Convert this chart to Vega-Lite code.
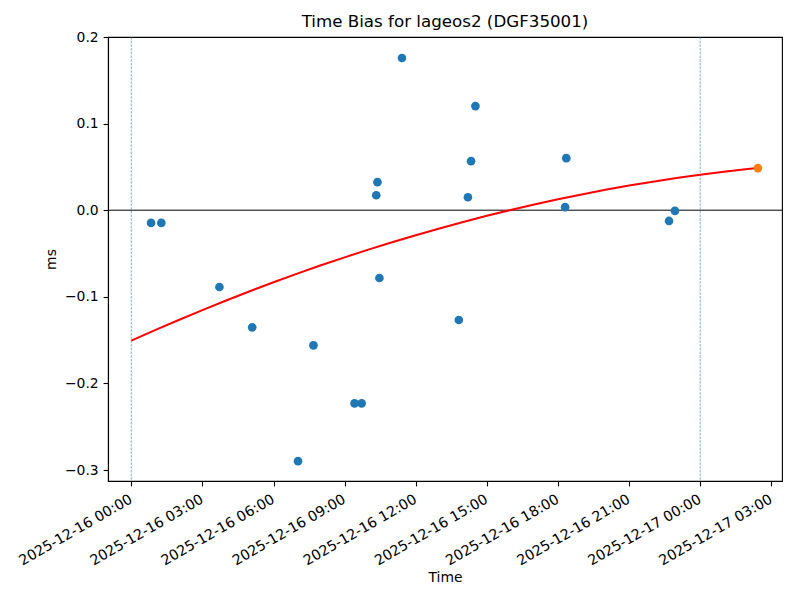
{
  "$schema": "https://vega.github.io/schema/vega-lite/v6.json",
  "autosize": {"type": "none"},
  "width": 674,
  "height": 444,
  "padding": {"left": 108, "top": 37, "right": 18, "bottom": 119},
  "title": {"text": "Time Bias for lageos2 (DGF35001)", "fontSize": 16.7, "fontWeight": "normal", "font": "DejaVu Sans", "color": "black", "anchor": "middle", "offset": -1},
  "config": {
    "font": "DejaVu Sans",
    "view": {"stroke": "black", "strokeWidth": 1.1},
    "axis": {"domainColor": "black", "domainWidth": 1.1, "tickColor": "black", "tickWidth": 1.1, "tickSize": 4.9, "labelColor": "black", "titleColor": "black", "labelFont": "DejaVu Sans", "titleFont": "DejaVu Sans", "labelFontSize": 13.9, "titleFontSize": 13.9, "titleFontWeight": "normal", "grid": false, "labelPadding": 4.9}
  },
  "datasets": {
    "obs": [
      {"t": "2025-12-16T00:50:00Z", "v": -0.0147},
      {"t": "2025-12-16T01:16:00Z", "v": -0.0147},
      {"t": "2025-12-16T03:43:00Z", "v": -0.0887},
      {"t": "2025-12-16T05:06:00Z", "v": -0.1353},
      {"t": "2025-12-16T07:02:00Z", "v": -0.2898},
      {"t": "2025-12-16T07:41:00Z", "v": -0.1561},
      {"t": "2025-12-16T09:25:00Z", "v": -0.2231},
      {"t": "2025-12-16T09:43:00Z", "v": -0.2231},
      {"t": "2025-12-16T10:20:00Z", "v": 0.0173},
      {"t": "2025-12-16T10:23:00Z", "v": 0.0324},
      {"t": "2025-12-16T10:28:00Z", "v": -0.0783},
      {"t": "2025-12-16T11:25:00Z", "v": 0.1757},
      {"t": "2025-12-16T13:49:00Z", "v": -0.1268},
      {"t": "2025-12-16T14:12:00Z", "v": 0.015},
      {"t": "2025-12-16T14:20:00Z", "v": 0.0566},
      {"t": "2025-12-16T14:31:00Z", "v": 0.1202},
      {"t": "2025-12-16T18:18:00Z", "v": 0.0035},
      {"t": "2025-12-16T18:21:00Z", "v": 0.0601},
      {"t": "2025-12-16T22:41:00Z", "v": -0.0124},
      {"t": "2025-12-16T22:56:00Z", "v": -0.0008}
    ],
    "fit": [
      {"t": "2025-12-16T00:00:00Z", "v": -0.1507},
      {"t": "2025-12-16T01:00:00Z", "v": -0.13855},
      {"t": "2025-12-16T02:00:00Z", "v": -0.12676},
      {"t": "2025-12-16T03:00:00Z", "v": -0.11534},
      {"t": "2025-12-16T04:00:00Z", "v": -0.10428},
      {"t": "2025-12-16T05:00:00Z", "v": -0.09358},
      {"t": "2025-12-16T06:00:00Z", "v": -0.08324},
      {"t": "2025-12-16T07:00:00Z", "v": -0.07326},
      {"t": "2025-12-16T08:00:00Z", "v": -0.06364},
      {"t": "2025-12-16T09:00:00Z", "v": -0.05443},
      {"t": "2025-12-16T10:00:00Z", "v": -0.0455},
      {"t": "2025-12-16T11:00:00Z", "v": -0.03697},
      {"t": "2025-12-16T12:00:00Z", "v": -0.02884},
      {"t": "2025-12-16T13:00:00Z", "v": -0.02111},
      {"t": "2025-12-16T14:00:00Z", "v": -0.01356},
      {"t": "2025-12-16T15:00:00Z", "v": -0.00648},
      {"t": "2025-12-16T16:00:00Z", "v": 0.00024},
      {"t": "2025-12-16T17:00:00Z", "v": 0.0066},
      {"t": "2025-12-16T18:00:00Z", "v": 0.0126},
      {"t": "2025-12-16T19:00:00Z", "v": 0.01823},
      {"t": "2025-12-16T20:00:00Z", "v": 0.0235},
      {"t": "2025-12-16T21:00:00Z", "v": 0.02841},
      {"t": "2025-12-16T22:00:00Z", "v": 0.03296},
      {"t": "2025-12-16T23:00:00Z", "v": 0.03714},
      {"t": "2025-12-17T00:00:00Z", "v": 0.04096},
      {"t": "2025-12-17T01:00:00Z", "v": 0.04442},
      {"t": "2025-12-17T02:00:00Z", "v": 0.04752},
      {"t": "2025-12-17T02:26:00Z", "v": 0.0486}
    ],
    "pred": [{"t": "2025-12-17T02:26:00Z", "v": 0.0486}],
    "vlines": [{"t": "2025-12-16T00:00:00Z"}, {"t": "2025-12-17T00:00:00Z"}],
    "hline": [{"v": 0}]
  },
  "encoding": {
    "x": {
      "field": "t", "type": "temporal", "title": "Time",
      "scale": {"type": "utc", "domain": [
        {"year": 2025, "month": 12, "date": 15, "hours": 23, "minutes": 1, "utc": true},
        {"year": 2025, "month": 12, "date": 17, "hours": 3, "minutes": 27, "utc": true}
      ]},
      "axis": {
        "labelExpr": "utcFormat(datum.value, '%Y-%m-%d %H:%M')",
        "labelAngle": -30, "labelAlign": "right", "labelBaseline": "top",
        "labelOverlap": false, "labelBound": false, "labelFlush": false,
        "labelFontSize": 14.2, "labelOffset": -4, "labelPadding": 6,
        "titlePadding": 2,
        "values": [
          {"year": 2025, "month": 12, "date": 16, "hours": 0, "utc": true},
          {"year": 2025, "month": 12, "date": 16, "hours": 3, "utc": true},
          {"year": 2025, "month": 12, "date": 16, "hours": 6, "utc": true},
          {"year": 2025, "month": 12, "date": 16, "hours": 9, "utc": true},
          {"year": 2025, "month": 12, "date": 16, "hours": 12, "utc": true},
          {"year": 2025, "month": 12, "date": 16, "hours": 15, "utc": true},
          {"year": 2025, "month": 12, "date": 16, "hours": 18, "utc": true},
          {"year": 2025, "month": 12, "date": 16, "hours": 21, "utc": true},
          {"year": 2025, "month": 12, "date": 17, "hours": 0, "utc": true},
          {"year": 2025, "month": 12, "date": 17, "hours": 3, "utc": true}
        ]
      }
    },
    "y": {
      "field": "v", "type": "quantitative", "title": "ms",
      "scale": {"domain": [-0.3127, 0.2], "nice": false, "zero": false},
      "axis": {"values": [-0.3, -0.2, -0.1, 0, 0.1, 0.2], "format": ".1f", "titlePadding": 6}
    }
  },
  "layer": [
    {
      "data": {"name": "hline"},
      "mark": {"type": "rule", "color": "black", "strokeWidth": 1},
      "encoding": {"x": null, "y": {"field": "v", "type": "quantitative"}}
    },
    {
      "data": {"name": "vlines"},
      "mark": {"type": "rule", "color": "#1f77b4", "strokeWidth": 0.6, "strokeDash": [2.5, 1.2]},
      "encoding": {"y": null, "x": {"field": "t", "type": "temporal"}}
    },
    {
      "data": {"name": "obs"},
      "mark": {"type": "circle", "color": "#1f77b4", "opacity": 1, "size": 75}
    },
    {
      "data": {"name": "fit"},
      "mark": {"type": "line", "color": "#ff0000", "strokeWidth": 2}
    },
    {
      "data": {"name": "pred"},
      "mark": {"type": "circle", "color": "#ff7f0e", "opacity": 1, "size": 75}
    }
  ]
}
